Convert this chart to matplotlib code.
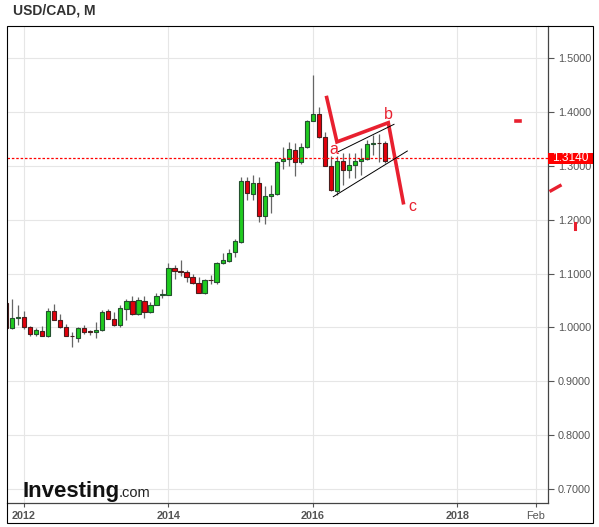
import matplotlib
matplotlib.use("Agg")
import matplotlib.pyplot as plt
import matplotlib.transforms as mtransforms
from matplotlib.patches import Rectangle
import numpy as np
import pandas as pd

# monthly USD/CAD candles, Oct 2011 .. Jan 2017
months = pd.period_range("2011-10", "2017-01", freq="M")
opens = [1.046, 0.998, 1.0175, 1.020, 1.001, 0.9876, 0.994, 0.9845, 1.031, 1.014, 1.001, 0.984,
         0.9807, 0.998, 0.992, 0.9907, 0.9944, 1.030, 1.016, 1.0043, 1.0342, 1.0497, 1.025, 1.0497,
         1.0286, 1.0422, 1.0598, 1.0608, 1.1107, 1.1045, 1.103, 1.094, 1.083, 1.0635, 1.088, 1.0845,
         1.119, 1.124, 1.140, 1.159, 1.272, 1.2475, 1.268, 1.2073, 1.2445, 1.2476, 1.309, 1.3133,
         1.330, 1.307, 1.335, 1.384, 1.396, 1.3535, 1.300, 1.254, 1.3095, 1.293, 1.3015, 1.3095,
         1.3133, 1.3405, 1.3424, 1.3424]
highs = [1.058, 1.052, 1.041, 1.031, 1.003, 0.9985, 1.003, 1.036, 1.0435, 1.024, 1.0068, 0.991,
         1.000, 1.004, 0.9944, 1.010, 1.033, 1.034, 1.028, 1.0416, 1.053, 1.059, 1.057, 1.058,
         1.0466, 1.0633, 1.072, 1.120, 1.1163, 1.126, 1.107, 1.0985, 1.0935, 1.090, 1.098, 1.1215,
         1.138, 1.145, 1.165, 1.280, 1.280, 1.2835, 1.280, 1.262, 1.265, 1.309, 1.335, 1.3436,
         1.3423, 1.3423, 1.386, 1.469, 1.409, 1.3635, 1.3176, 1.3176, 1.324, 1.324, 1.324, 1.333,
         1.3486, 1.358, 1.3598, 1.3455]
lows = [0.995, 0.997, 1.004, 0.996, 0.984, 0.984, 0.983, 0.982, 1.013, 0.999, 0.984, 0.9634,
        0.9727, 0.987, 0.9863, 0.980, 0.993, 1.015, 1.003, 1.0006, 1.013, 1.023, 1.022, 1.0174,
        1.0267, 1.041, 1.0547, 1.060, 1.089, 1.0945, 1.084, 1.081, 1.063, 1.062, 1.081, 1.0805,
        1.1175, 1.1215, 1.131, 1.156, 1.237, 1.237, 1.1955, 1.1925, 1.2123, 1.246, 1.295, 1.300,
        1.282, 1.304, 1.333, 1.383, 1.352, 1.299, 1.2538, 1.246, 1.265, 1.2773, 1.2773, 1.2835,
        1.3115, 1.3195, 1.308, 1.306]
closes = [0.998, 1.018, 1.018, 1.0006, 0.9876, 0.9957, 0.984, 1.031, 1.014, 1.0006, 0.9845, 0.983,
          0.998, 0.992, 0.991, 0.9957, 1.029, 1.0155, 1.0043, 1.0366, 1.0497, 1.025, 1.0516, 1.0286,
          1.0422, 1.059, 1.061, 1.1107, 1.1045, 1.103, 1.094, 1.082, 1.0635, 1.088, 1.087, 1.119,
          1.125, 1.139, 1.161, 1.272, 1.2495, 1.268, 1.2073, 1.2445, 1.2476, 1.307, 1.3133, 1.331,
          1.307, 1.335, 1.384, 1.396, 1.3535, 1.300, 1.2556, 1.3095, 1.293, 1.3015, 1.3095, 1.3133,
          1.3405, 1.3424, 1.3418, 1.310]
last_price = 1.3140

tick_months = ["2012-01", "2014-01", "2016-01", "2018-01", "2019-02"]
tick_labels = ["2012", "2014", "2016", "2018", "Feb"]
price_ticks = [0.7, 0.8, 0.9, 1.0, 1.1, 1.2, 1.3, 1.4, 1.5]

# hand drawn ABC wave and channel (x in months after Jan 2012)
wave_x = [50.28, 51.98, 60.51, 63.01]
wave_y = [1.4271, 1.3446, 1.3803, 1.2316]
wave_labels = ["a", "b", "c"]
wave_label_x = [51.5, 60.5, 64.5]
wave_label_y = [1.3296, 1.396, 1.224]
chan_top_x, chan_top_y = [52.21, 61.46], [1.3264, 1.3773]
chan_bot_x, chan_bot_y = [51.38, 63.67], [1.2428, 1.3277]


def mpos(p):
    p = pd.Period(p, freq="M")
    return (p.year - 2012) * 12 + p.month - 1


plt.rcParams["font.family"] = ["Liberation Sans", "DejaVu Sans"]

W, H = 599, 527
fig = plt.figure(figsize=(W / 100, H / 100), dpi=100)
ax = fig.add_axes([6.5 / W, 24 / H, (548 - 6.5) / W, (503 - 25.5) / H])

x = np.array([mpos(m) for m in months])
o, h, l, c = map(np.array, (opens, highs, lows, closes))
up = c >= o
fills = np.where(up, "#1fcb1f", "#e3000b")
edges = np.where(up, "#24512f", "#4a1f1f")
body_lo = np.minimum(o, c)
body_h = np.maximum(np.abs(c - o), 0.0012)

ax.vlines(x, l, h, color="#666666", lw=0.9, zorder=2)
ax.bar(x, body_h, bottom=body_lo, width=0.72, color=fills, edgecolor=edges, lw=0.8, zorder=3)

ax.set_xlim(-2.907, 87.04)
ax.set_ylim(0.6734, 1.561)

ax.set_xticks([mpos(t) for t in tick_months])
ax.set_xticklabels(tick_labels)
for t in ax.get_xticklabels():
    if t.get_text() != "Feb":
        t.set_fontweight("bold")
ax.set_yticks(price_ticks)
ax.set_yticklabels([f"{v:.4f}" for v in price_ticks])
ax.yaxis.tick_right()
ax.tick_params(axis="y", direction="out", length=4, width=0.8, color="#555555",
               labelsize=7.8, labelcolor="#555555", pad=3)
ax.tick_params(axis="x", direction="out", length=3, width=0.8, color="#555555",
               labelsize=7.8, labelcolor="#555555", pad=3)
ax.grid(color="#e6e6e6", lw=0.8)
ax.set_axisbelow(True)
for s in ("left", "top"):
    ax.spines[s].set_visible(False)
for s in ("right", "bottom"):
    ax.spines[s].set_color("#444444")
    ax.spines[s].set_linewidth(0.9)

# current price line and tag
red = "#ff0000"
ax.axhline(last_price, color=red, lw=0.9, ls=(0, (2, 1.5)), zorder=4)
blend = mtransforms.blended_transform_factory(ax.transAxes, ax.transData)
ax.add_patch(Rectangle((1.0, last_price - 0.0108), 45 / 541.5, 0.0216, transform=blend,
                       fc=red, ec="none", clip_on=False, zorder=6))
ax.text(1.0 + 22.5 / 541.5, last_price, f"{last_price:.4f}", transform=blend, ha="center",
        va="center", color="white", fontsize=8.6, clip_on=False, zorder=7)

# drawings
wred = "#e8202f"
ax.plot(wave_x, wave_y, color=wred, lw=2.6, solid_joinstyle="miter", zorder=5)
for s, xx, yy in zip(wave_labels, wave_label_x, wave_label_y):
    ax.text(xx, yy, s, color=wred, fontsize=11.5, ha="center", va="center", zorder=6)
ax.plot(chan_top_x, chan_top_y, color="black", lw=0.7, zorder=5)
ax.plot(chan_bot_x, chan_bot_y, color="black", lw=0.7, zorder=5)
# clipped bits of other drawings on the right
ax.plot([81.73, 82.39], [1.3829, 1.3829], color=wred, lw=2.6, zorder=5)
ax.plot([87.54, 89.04], [1.2539, 1.2633], color=wred, lw=2.4, clip_on=False, zorder=5)
ax.plot([91.58, 91.58], [1.1933, 1.1822], color=wred, lw=2.2, clip_on=False, zorder=5)

# outer frame and title
fig.patches.append(Rectangle((6.5 / W, (527 - 523) / H), (593 - 6.5) / W, (523 - 25.5) / H,
                             transform=fig.transFigure, fill=False, ec="black", lw=0.8))
fig.text(13 / W, 1 - 10.5 / H, "USD/CAD, M", fontsize=10, fontweight="bold",
         color="#333333", va="center")

# watermark
wm = fig.text(22 / W, (527 - 497) / H, "Investing", fontsize=16, fontweight="bold",
              color="#111111", va="baseline")
fig.canvas.draw()
bb = wm.get_window_extent()
fig.text(bb.x1 / W, (527 - 497) / H, ".com", fontsize=10.5, color="#222222", va="baseline")

fig.savefig("out.png", dpi=100)
